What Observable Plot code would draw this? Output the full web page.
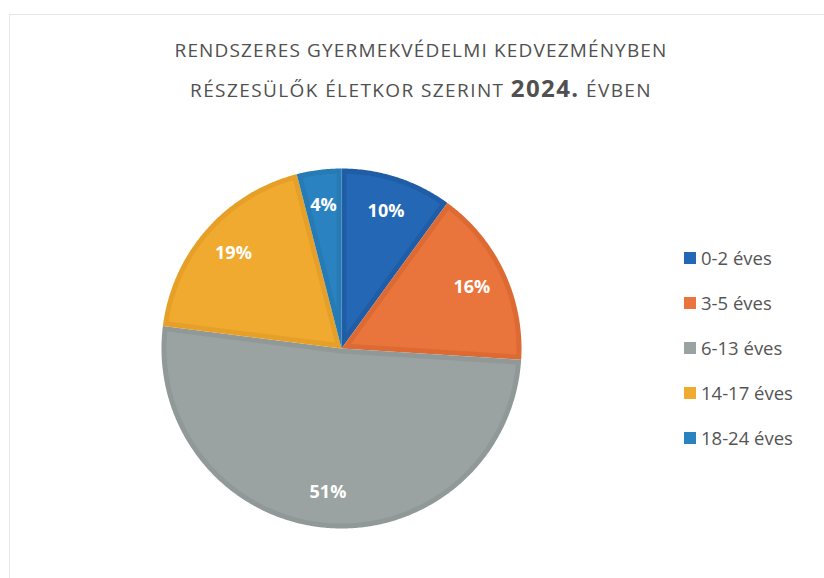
<!DOCTYPE html>
<html>
<head>
<meta charset="utf-8">
<script src="https://cdn.jsdelivr.net/npm/d3@7"></script>
<script src="https://cdn.jsdelivr.net/npm/@observablehq/plot@0.6"></script>
<style>
  html, body { margin: 0; padding: 0; background: #fff; }
  #wrap { position: relative; width: 824px; height: 578px; overflow: hidden; font-family: "Open Sans", Lato, sans-serif; }
  #frame { position: absolute; left: 9px; top: 14px; right: -2px; bottom: -2px; border-left: 1px solid #e6e6e6; border-top: 1px solid #e6e6e6; }
  #title { position: absolute; left: 0; width: 842px; top: 31px; text-align: center; color: #505050; font-size: 19px; line-height: 38px; }
  #title div { white-space: nowrap; }
  #title b { font-size: 24px; }
  #legend { position: absolute; left: 684px; top: 245px; color: #555; font-size: 18.5px; }
  .item { height: 45px; display: flex; align-items: flex-start; }
  .sw { width: 12px; height: 12px; margin-top: 7px; margin-right: 5px; }
  #chart { position: absolute; left: 0; top: 0; }
</style>
</head>
<body>
<div id="wrap">
  <div id="frame"></div>
  <div id="chart"></div>
  <div id="title"></div>
  <div id="legend"></div>
</div>
<script>
const categories = ["0-2 éves", "3-5 éves", "6-13 éves", "14-17 éves", "18-24 éves"];
const values = [10, 16, 51, 19, 4];
const labels = ["10%", "16%", "51%", "19%", "4%"];
const colors = ["#2467b4", "#e9743c", "#9aa3a2", "#f1aa30", "#2a83c0"];
const borders = ["#1f5ea6", "#dd6a33", "#909998", "#e6a028", "#267bb5"];
const titleLine1 = "RENDSZERES GYERMEKVÉDELMI KEDVEZMÉNYBEN";
const titleLine2a = "RÉSZESÜLŐK ÉLETKOR SZERINT ";
const titleYear = "2024.";
const titleLine2b = " ÉVBEN";

// Layout (pixels)
const W = 824, H = 578, CX = 341, CY = 348, R = 180, INSET = 5 / 180;

const pie = d3.pie().sort(null).value(d => d.value)(categories.map((c, i) => ({cat: c, value: values[i], i})));

function slicePoints(a0, a1, r, inset, idx, part) {
  const pts = [];
  let apex = [0, 0];
  let s0 = a0, s1 = a1, rr = r;
  if (inset > 0) {
    const half = (a1 - a0) / 2, mid = (a0 + a1) / 2;
    const dd = inset / Math.sin(half);
    apex = [dd * Math.sin(mid), dd * Math.cos(mid)];
    rr = r - inset;
    const da = Math.asin(inset / rr);
    s0 = a0 + da; s1 = a1 - da;
  }
  pts.push({x: apex[0], y: apex[1], k: idx + part});
  const n = Math.max(8, Math.ceil((s1 - s0) / 0.01));
  for (let j = 0; j <= n; j++) {
    const a = s0 + (s1 - s0) * j / n;
    pts.push({x: rr * Math.sin(a), y: rr * Math.cos(a), k: idx + part});
  }
  pts.push({x: apex[0], y: apex[1], k: idx + part});
  return pts;
}

const outer = pie.flatMap(p => slicePoints(p.startAngle, p.endAngle, 1, 0, p.data.i, "o").map(d => ({...d, i: p.data.i})));
const inner = pie.flatMap(p => slicePoints(p.startAngle, p.endAngle, 1, INSET, p.data.i, "n").map(d => ({...d, i: p.data.i})));
const labelData = pie.map(p => {
  const m = (p.startAngle + p.endAngle) / 2;
  return {x: 0.8 * Math.sin(m), y: 0.8 * Math.cos(m), text: labels[p.data.i]};
});

const chart = Plot.plot({
  width: W, height: H,
  margin: 0,
  x: {domain: [-CX / R, (W - CX) / R], range: [0, W], axis: null},
  y: {domain: [-(H - CY) / R, CY / R], range: [H, 0], axis: null},
  style: {background: "transparent", overflow: "visible"},
  marks: [
    Plot.line(outer, {x: "x", y: "y", z: "k", fill: d => borders[d.i], stroke: "none", curve: "linear"}),
    Plot.line(inner, {x: "x", y: "y", z: "k", fill: d => colors[d.i], stroke: "none", curve: "linear"}),
    Plot.text(labelData, {x: "x", y: "y", text: "text", fill: "white", fontSize: 18, fontWeight: "bold", fontFamily: "'Open Sans', Lato, sans-serif"})
  ]
});
document.getElementById("chart").appendChild(chart);

const t = document.getElementById("title");
const l1 = document.createElement("div"); l1.textContent = titleLine1; t.appendChild(l1);
const l2 = document.createElement("div");
l2.appendChild(document.createTextNode(titleLine2a));
const b = document.createElement("b"); b.textContent = titleYear; l2.appendChild(b);
l2.appendChild(document.createTextNode(titleLine2b));
t.appendChild(l2);

// fit letter spacing to the reference line widths
function fit(el, target) {
  const span = document.createElement("span");
  while (el.firstChild) span.appendChild(el.firstChild);
  el.appendChild(span);
  const n = span.textContent.length;
  const w = span.getBoundingClientRect().width;
  span.style.letterSpacing = ((target - w) / n) + "px";
}
fit(l1, 493);
fit(l2, 462);

const lg = document.getElementById("legend");
categories.forEach((c, i) => {
  const it = document.createElement("div"); it.className = "item";
  const sw = document.createElement("div"); sw.className = "sw"; sw.style.background = colors[i];
  const tx = document.createElement("span"); tx.textContent = c;
  it.appendChild(sw); it.appendChild(tx); lg.appendChild(it);
});
</script>
</body>
</html>
